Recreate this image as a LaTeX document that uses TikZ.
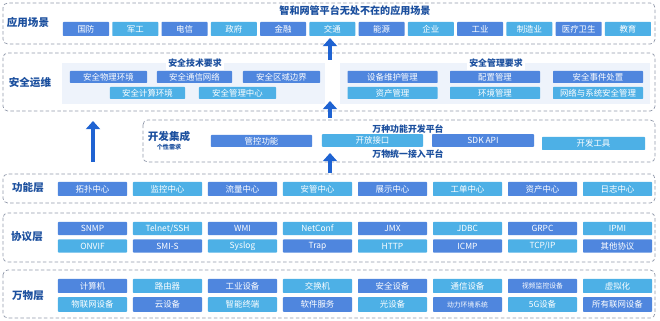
\documentclass[tikz,border=0pt]{standalone}
\usepackage{fontspec}
\setmainfont{Noto Sans CJK SC}
\usepackage{xcolor}
\definecolor{cellblue}{HTML}{4F86DE}
\definecolor{cellcyan}{HTML}{4DB0E6}
\definecolor{labelblue}{HTML}{1B4F9E}
\definecolor{arrowblue}{HTML}{1F63D2}
\definecolor{framegray}{HTML}{9199AA}
\definecolor{panelbg}{HTML}{EEF3FB}
\usetikzlibrary{arrows.meta}

\begin{document}
\begin{tikzpicture}[
  x=0.03cm, y=-0.03cm,
  every node/.style={font=\fontsize{7.2}{8}\selectfont},
  cell/.style={rectangle, rounded corners=0.6pt, text=white, inner sep=0pt, minimum height=0.42cm},
  dk/.style={cell, fill=cellblue},
  lt/.style={cell, fill=cellcyan},
  frame/.style={draw=framegray, densely dashed, line width=0.6pt, rounded corners=4pt, fill=white},
  panel/.style={fill=panelbg, draw=none},
  layerlab/.style={font=\fontsize{9}{10}\selectfont\bfseries, labelblue},
  sublab/.style={font=\fontsize{7.6}{9}\selectfont\bfseries, labelblue, fill=white, inner sep=2pt},
  bigarrow/.style={-{Triangle[width=12pt, length=7pt]}, line width=4pt, arrowblue},
]
  \useasboundingbox (0,0) rectangle (660,321);

  % layer frames
  \draw[frame] (3,3)    rectangle (655,44);
  \draw[frame] (3,53)   rectangle (655,111);
  \draw[frame] (143,120) rectangle (655,162);
  \draw[frame] (3,174)  rectangle (655,203);
  \draw[frame] (3,213)  rectangle (655,262);
  \draw[frame] (3,270)  rectangle (655,318);

  % application scenarios
  \node[font=\fontsize{8.6}{10}\selectfont\bfseries, labelblue] (apptitle) at (355,11) {智和网管平台无处不在的应用场景};
  \node[layerlab] (applab) at (28,22) {应用场景};
  \foreach \t/\s [count=\i from 0] in {国防/dk, 军工/lt, 电信/dk, 政府/lt, 金融/dk, 交通/lt,
      能源/dk, 企业/lt, 工业/dk, 制造业/lt, 医疗卫生/dk, 教育/lt}
    \node[\s, minimum width=1.38cm] (app\i) at (86+49.27*\i,29) {\t};

  % security operations
  \node[layerlab] (seclab) at (30,83) {安全运维};
  \fill[panel] (62,63) rectangle (325,104);
  \fill[panel] (340,63) rectangle (650,104);
  \node[sublab] (techreq) at (195,63) {安全技术要求};
  \node[sublab] (mgmtreq) at (496,63) {安全管理要求};
  \node[dk, minimum width=2.31cm, minimum height=0.36cm] (tech1) at (108.5,77) {安全物理环境};
  \node[dk, minimum width=2.25cm, minimum height=0.36cm] (tech2) at (194.5,77) {安全通信网络};
  \node[dk, minimum width=2.31cm, minimum height=0.36cm] (tech3) at (281.5,77) {安全区域边界};
  \node[lt, minimum width=2.25cm, minimum height=0.36cm] (tech4) at (147.5,93) {安全计算环境};
  \node[lt, minimum width=2.31cm, minimum height=0.36cm] (tech5) at (237.5,93) {安全管理中心};
  \foreach \a/\b/\x [count=\i] in {设备维护管理/资产管理/392.5, 配置管理/环境管理/495,
      安全事件处置/网络与系统安全管理/598} {
    \node[dk, minimum width=2.7cm, minimum height=0.36cm] (mgmt\i a) at (\x,77) {\a};
    \node[lt, minimum width=2.7cm, minimum height=0.36cm] (mgmt\i b) at (\x,93) {\b};
  }

  % development integration
  \node[layerlab] (devlab) at (169,136) {开发集成};
  \node[font=\fontsize{5.2}{6}\selectfont\bfseries, labelblue] (devsub) at (169,147) {个性需求};
  \node[dk, minimum width=3.03cm, minimum height=0.36cm] (ctrl) at (261.5,141) {管控功能};
  \node[lt, minimum width=3.03cm, minimum height=0.38cm] (open) at (372.5,140.5) {开放接口};
  \node[dk, minimum width=3.06cm, minimum height=0.38cm] (sdk)  at (483,140.5) {SDK API};
  \node[lt, minimum width=3.09cm, minimum height=0.39cm] (tool) at (593.5,143.5) {开发工具};
  \node[font=\fontsize{7.6}{9}\selectfont\bfseries, labelblue] (devplat) at (408,129) {万种功能开发平台};
  \node[font=\fontsize{7.6}{9}\selectfont\bfseries, labelblue] (accplat) at (408,154) {万物统一接入平台};

  % function layer
  \node[layerlab] (funclab) at (28,188) {功能层};
  \foreach \t/\s [count=\i from 0] in {拓扑中心/dk, 监控中心/lt, 流量中心/dk, 安管中心/lt,
      展示中心/dk, 工单中心/lt, 资产中心/dk, 日志中心/lt}
    \node[\s, minimum width=2.07cm] (func\i) at (92.5+75*\i,189) {\t};

  % protocol layer
  \node[layerlab] (protlab) at (27,237) {协议层};
  \foreach \a/\b [count=\i from 0] in {SNMP/ONVIF, Telnet\slash SSH/SMI-S, WMI/Syslog, NetConf/Trap,
      JMX/HTTP, JDBC/ICMP, GRPC/TCP\slash IP, IPMI/其他协议} {
    \pgfmathsetmacro\odd{mod(\i,2)}
    \ifdim\odd pt<0.5pt
      \node[dk, minimum width=2.07cm, minimum height=0.4cm] (prot\i a) at (92.5+75*\i,228.5) {\a};
      \node[lt, minimum width=2.07cm, minimum height=0.4cm] (prot\i b) at (92.5+75*\i,246) {\b};
    \else
      \node[lt, minimum width=2.07cm, minimum height=0.4cm] (prot\i a) at (92.5+75*\i,228.5) {\a};
      \node[dk, minimum width=2.07cm, minimum height=0.4cm] (prot\i b) at (92.5+75*\i,246) {\b};
    \fi
  }

  % things layer
  \node[layerlab] (thinglab) at (28,296) {万物层};
  \foreach \a/\b [count=\i from 0] in {计算机/物联网设备, 路由器/云设备, 工业设备/智能终端, 交换机/软件服务,
      安全设备/光设备, 通信设备/{\fontsize{5.8}{7}\selectfont 动力环境系统}, {\fontsize{5.8}{7}\selectfont 视频监控设备}/5G设备, 虚拟化/所有联网设备} {
    \pgfmathsetmacro\odd{mod(\i,2)}
    \ifdim\odd pt<0.5pt
      \node[dk, minimum width=2.07cm] (thing\i a) at (92.5+75*\i,286) {\a};
      \node[lt, minimum width=2.07cm, minimum height=0.44cm] (thing\i b) at (92.5+75*\i,304.5) {\b};
    \else
      \node[lt, minimum width=2.07cm] (thing\i a) at (92.5+75*\i,286) {\a};
      \node[dk, minimum width=2.07cm, minimum height=0.44cm] (thing\i b) at (92.5+75*\i,304.5) {\b};
    \fi
  }

  % upward arrows
  \coordinate (up1s) at (330,60);  \coordinate (up1e) at (330,38);
  \coordinate (up2s) at (330,118); \coordinate (up2e) at (330,101);
  \coordinate (up3s) at (330,173); \coordinate (up3e) at (330,153);
  \coordinate (up4s) at (93,162);  \coordinate (up4e) at (93,121);
  \draw[bigarrow] (up1s) -- (up1e);
  \draw[bigarrow] (up2s) -- (up2e);
  \draw[bigarrow] (up3s) -- (up3e);
  \draw[bigarrow] (up4s) -- (up4e);
\end{tikzpicture}
\end{document}
